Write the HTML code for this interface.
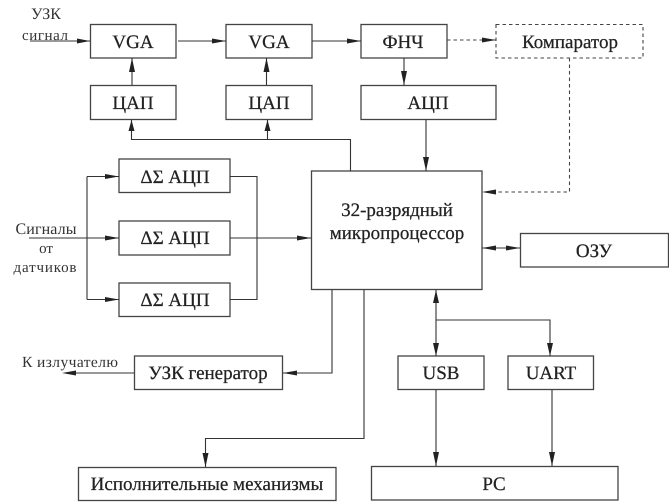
<!DOCTYPE html>
<html><head><meta charset="utf-8"><style>
html,body{margin:0;padding:0;background:#fff;width:669px;height:502px;overflow:hidden}
svg{display:block}
text{font-family:"Liberation Serif","Noto Serif CJK SC",serif;fill:#222;stroke:#222;stroke-width:.25;text-anchor:middle;text-rendering:geometricPrecision}
text.s{stroke:none;fill:#333}
.b{fill:none;stroke:#444;stroke-width:1.3}
.l{fill:none;stroke:#333;stroke-width:1.1}
.d{fill:none;stroke:#444;stroke-width:1.1;stroke-dasharray:3.5 3}
.a{fill:#222;stroke:none}
</style></head><body>
<svg width="669" height="502" viewBox="0 0 669 502" xmlns="http://www.w3.org/2000/svg">
<rect class="b" x="90.5" y="24.5" width="85.5" height="33.5"/>
<rect class="b" x="226" y="24.5" width="86" height="33.5"/>
<rect class="b" x="90.5" y="85.5" width="85.5" height="34"/>
<rect class="b" x="226" y="85.5" width="86" height="34"/>
<rect class="b" x="361" y="24.5" width="86" height="33.5"/>
<rect class="d" x="496" y="24.5" width="147" height="33.5"/>
<rect class="b" x="361" y="85.5" width="135" height="34"/>
<rect class="b" x="119" y="159" width="111" height="33.5"/>
<rect class="b" x="119" y="221" width="111" height="34"/>
<rect class="b" x="119" y="283" width="111" height="33.5"/>
<rect class="b" x="311.5" y="171" width="170.5" height="118.5"/>
<rect class="b" x="520.5" y="233.5" width="148" height="33.5"/>
<rect class="b" x="134.5" y="356" width="148" height="33.5"/>
<rect class="b" x="78.5" y="467.5" width="257.5" height="33"/>
<rect class="b" x="398" y="356" width="86" height="33.5"/>
<rect class="b" x="508" y="356" width="85.5" height="33.5"/>
<rect class="b" x="371.5" y="466.5" width="246.5" height="33.5"/>

<path class="l" d="M30 41H90M178 41H226M312 41H361M132 85V58M266.500 85V58M404 58V85M426 119.500V171"/>
<path class="d" d="M447 40H496M569.500 58V192H482"/>
<path class="l" d="M131.500 120V139.500H350.500V171M267.500 120V139.500"/>
<path class="l" d="M29 238H119M87 176.500V299.500M87 176.500H119M87 299.500H119M230 176.500H257V299.500H230M230 238H311"/>
<path class="l" d="M482 248H520M436 290V356M436 320H550V356M436 390V466M552 390V466"/>
<path class="l" d="M134 373H70M283 373H332V290M364 290V438.500H205.500V467"/>

<g class="a">
<path d="M77 38.500L90 41L77 43.500Z"/><path d="M212 38.500L226 41L212 43.500Z"/><path d="M347 38.500L361 41L347 43.500Z"/>
<path d="M482 37.500L496 40L482 42.500Z"/>
<path d="M132 58L135 72H129Z"/><path d="M266.500 58L269.500 72H263.500Z"/>
<path d="M404 85L401 71H407Z"/><path d="M426 171L423 157H429Z"/>
<path d="M131.500 120L134.500 131H128.500Z"/><path d="M267.500 120L270.500 131H264.500Z"/>
<path d="M482 192L496 189.500V194.500Z"/>
<path d="M105 174L119 176.500L105 179Z"/><path d="M105 235.500L119 238L105 240.500Z"/><path d="M105 297L119 299.500L105 302Z"/>
<path d="M297 235.500L311 238L297 240.500Z"/>
<path d="M482 248L496 245.500V250.500Z"/><path d="M520 248L506 245.500V250.500Z"/>
<path d="M436 290L439 303H433Z"/><path d="M436 356L433 343H439Z"/><path d="M550 356L547 343H553Z"/>
<path d="M436 466L433 452H439Z"/><path d="M552 466L549 452H555Z"/>
<path d="M62 373L76 370.500V375.500Z"/><path d="M283 373L297 370.500V375.500Z"/>
<path d="M205.500 467L202.500 453H208.500Z"/>
</g>

<text x="133" y="48" font-size="19">VGA</text>
<text x="269" y="48" font-size="19">VGA</text>
<text x="133" y="109" font-size="19">ЦАП</text>
<text x="269" y="109" font-size="19">ЦАП</text>
<text x="403" y="48" font-size="19">ФНЧ</text>
<text x="570" y="48" font-size="19">Компаратор</text>
<text x="428" y="109" font-size="19">АЦП</text>
<text x="175" y="183" font-size="19">ΔΣ АЦП</text>
<text x="175" y="244" font-size="19">ΔΣ АЦП</text>
<text x="175" y="306" font-size="19">ΔΣ АЦП</text>
<text x="397" y="216" font-size="19">32-разрядный</text>
<text x="397" y="239" font-size="19">микропроцессор</text>
<text x="594" y="257" font-size="19">ОЗУ</text>
<text x="208" y="379" font-size="19">УЗК генератор</text>
<text x="207" y="490" font-size="19">Исполнительные механизмы</text>
<text x="441" y="379" font-size="19">USB</text>
<text x="551" y="379" font-size="19">UART</text>
<text x="494" y="490" font-size="19">PC</text>
<text class="s" x="46" y="19" font-size="16">УЗК</text>
<text class="s" x="45" y="40" font-size="15" textLength="46" lengthAdjust="spacing">сигнал</text>
<text class="s" x="46" y="234" font-size="16" textLength="61" lengthAdjust="spacing">Сигналы</text>
<text class="s" x="46" y="253" font-size="15">от</text>
<text class="s" x="45" y="272" font-size="15" textLength="63" lengthAdjust="spacing">датчиков</text>
<text class="s" x="70" y="367" font-size="15.500" textLength="96" lengthAdjust="spacing">К излучателю</text>
</svg>
</body></html>
